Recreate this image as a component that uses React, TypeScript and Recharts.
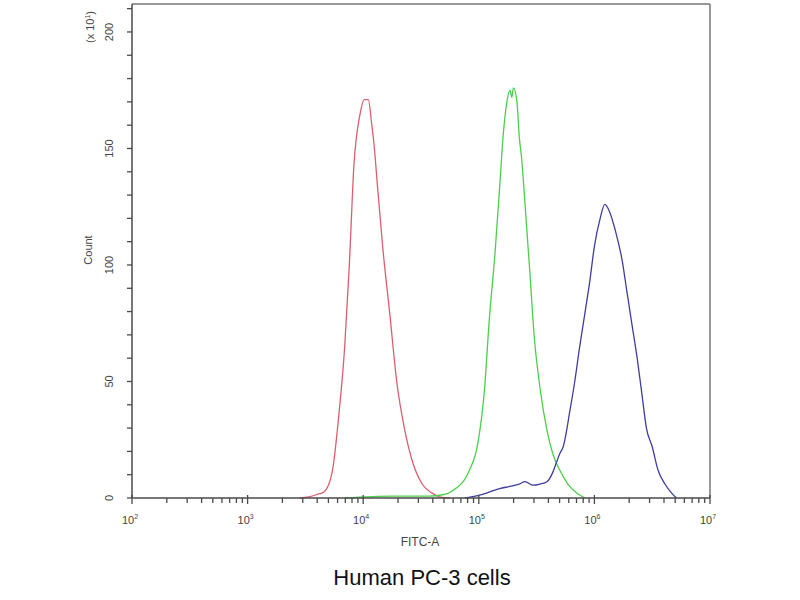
import React from "react";
import { LineChart, Line, XAxis, YAxis, ReferenceLine } from "recharts";

// x values are log10(FITC-A), y values are counts (x 10^1)
const redPeak: [number, number][] = [
  [3.45, 0], [3.53, 0.5], [3.6, 1.5], [3.66, 2.6], [3.73, 10.7], [3.79, 36],
  [3.84, 65], [3.88, 100], [3.92, 143], [3.97, 164], [4.01, 171], [4.045, 171],
  [4.07, 162], [4.097, 150], [4.12, 136], [4.17, 107], [4.23, 79], [4.29, 50],
  [4.36, 29], [4.43, 15], [4.51, 6], [4.6, 2], [4.66, 0.5], [4.75, 0],
];

const greenPeak: [number, number][] = [
  [3.84, 0], [4.25, 0.8], [4.57, 0.8], [4.7, 1.5], [4.77, 3], [4.92, 12],
  [4.99, 23], [5.05, 47], [5.09, 76], [5.14, 105], [5.18, 133], [5.21, 155],
  [5.24, 169], [5.27, 175], [5.285, 172], [5.3, 176], [5.33, 170], [5.35, 155],
  [5.37, 146], [5.4, 126], [5.44, 98], [5.48, 69], [5.53, 47], [5.59, 29],
  [5.64, 19], [5.7, 12], [5.77, 6], [5.85, 2], [5.92, 0],
];

const bluePeak: [number, number][] = [
  [4.88, 0], [4.99, 1], [5.09, 2.5], [5.18, 4], [5.27, 5], [5.35, 6], [5.4, 7],
  [5.47, 5.5], [5.53, 6], [5.59, 7], [5.64, 11], [5.67, 15], [5.7, 19],
  [5.73, 22], [5.79, 38], [5.83, 50], [5.87, 64], [5.92, 80], [5.96, 93],
  [6.0, 108], [6.05, 120], [6.09, 126], [6.13, 123], [6.18, 115], [6.24, 102],
  [6.28, 89], [6.32, 76], [6.37, 60], [6.41, 45], [6.45, 30], [6.5, 22],
  [6.55, 12], [6.61, 6], [6.67, 2], [6.71, 0],
];

const decades = [2, 3, 4, 5, 6, 7];
const minorMultipliers = [2, 3, 4, 5, 6, 7, 8, 9];
const countTicks = [0, 10, 20, 30, 40, 50, 60, 70, 80, 90, 100, 110, 120, 130, 140, 150, 160, 170, 180, 190, 200, 210];
const countLabels = [0, 50, 100, 150, 200];

const fitcTicks = [
  ...decades,
  ...decades.slice(0, -1).flatMap((d) => minorMultipliers.map((m) => d + Math.log10(m))),
];

const toPoints = (pairs: [number, number][]) => pairs.map(([x, y]) => ({ x, y }));

const FONT = "'Liberation Sans', Arial, sans-serif";
const AXIS = "#4a4a4a";
const LABEL = "#444";

const FitcTick = ({ x, y, payload }: any) => {
  const major = decades.includes(payload.value);
  return (
    <g>
      <line x1={x} x2={x} y1={major ? y - 3 : y} y2={y + (major ? 6 : 5)} stroke={AXIS} strokeWidth={1.3} />
      {major && (
        <text x={x - 2} y={y + 26} textAnchor="middle" fontSize={11} fill={LABEL} fontFamily={FONT}>
          10
          <tspan dy={-5} fontSize={7}>
            {payload.value}
          </tspan>
        </text>
      )}
    </g>
  );
};

const CountTick = ({ x, y, payload }: any) => {
  const major = countLabels.includes(payload.value);
  return (
    <g>
      <line x1={x - 5} x2={x} y1={y} y2={y} stroke={AXIS} strokeWidth={1.3} />
      {major && (
        <text
          transform={`translate(${x - 19},${y}) rotate(-90)`}
          textAnchor="middle"
          fontSize={11}
          fill={LABEL}
          fontFamily={FONT}
        >
          {payload.value}
        </text>
      )}
    </g>
  );
};

const overlay = (left: number, top: number, size: number, rotate = false): React.CSSProperties => ({
  position: "absolute",
  left,
  top,
  transform: `translate(-50%, -50%)${rotate ? " rotate(-90deg)" : ""}`,
  whiteSpace: "nowrap",
  fontFamily: FONT,
  fontSize: size,
  color: LABEL,
  lineHeight: 1,
});

export default function App() {
  return (
    <div style={{ position: "absolute", left: 0, top: 0, width: 800, height: 600, background: "#fff" }}>
      <LineChart width={800} height={600} margin={{ top: 4, right: 90, left: 0, bottom: 0 }}>
        <XAxis
          type="number"
          dataKey="x"
          domain={[2, 7]}
          ticks={fitcTicks}
          interval={0}
          tick={<FitcTick />}
          tickSize={0}
          tickMargin={0}
          height={102}
          axisLine={{ stroke: AXIS, strokeWidth: 1.5 }}
          allowDuplicatedCategory={false}
        />
        <YAxis
          type="number"
          domain={[0, 212]}
          ticks={countTicks}
          interval={0}
          tick={<CountTick />}
          tickSize={0}
          tickMargin={0}
          width={132}
          axisLine={{ stroke: AXIS, strokeWidth: 1.5 }}
        />
        <ReferenceLine y={212} stroke="#777" strokeWidth={1.5} />
        <ReferenceLine x={7} stroke="#777" strokeWidth={1.5} />
        <Line data={toPoints(redPeak)} dataKey="y" type="monotone" stroke="#db5f6c" strokeWidth={1.3} dot={false} isAnimationActive={false} />
        <Line data={toPoints(greenPeak)} dataKey="y" type="monotone" stroke="#4ccf4c" strokeWidth={1.3} dot={false} isAnimationActive={false} />
        <Line data={toPoints(bluePeak)} dataKey="y" type="monotone" stroke="#3e3e9e" strokeWidth={1.3} dot={false} isAnimationActive={false} />
      </LineChart>
      <div style={overlay(90, 27, 11, true)}>
        (x 10<sup style={{ fontSize: 7 }}>1</sup>)
      </div>
      <div style={overlay(88, 250, 11, true)}>Count</div>
      <div style={overlay(420, 542, 12)}>FITC-A</div>
      <div style={{ ...overlay(422, 578, 22), color: "#111" }}>Human PC-3 cells</div>
    </div>
  );
}
